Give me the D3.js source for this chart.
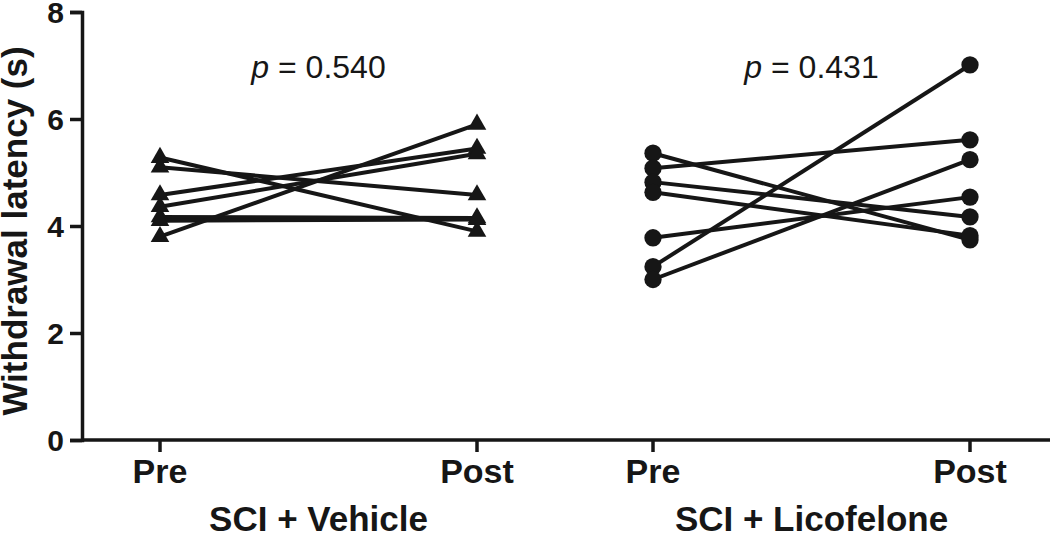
<!DOCTYPE html>
<html>
<head>
<meta charset="utf-8">
<script src="https://cdn.jsdelivr.net/npm/d3@7"></script>
<style>
  body { margin: 0; background: #fff; }
  svg { display: block; }
  .bold { font-family: "Liberation Sans", Arial, sans-serif; font-weight: bold; }
</style>
</head>
<body>
<script>
var width = 1050, height = 535;

// data
var groups = ["SCI + Vehicle", "SCI + Licofelone"];
var times = ["Pre", "Post"];
var pValues = ["0.540", "0.431"];
var vehiclePre  = [5.28, 5.10, 4.58, 4.36, 4.17, 4.10, 3.80];
var vehiclePost = [3.90, 4.58, 5.45, 5.35, 4.15, 4.12, 5.90];
var licoPre  = [5.36, 5.08, 4.82, 4.63, 3.78, 3.24, 3.00];
var licoPost = [3.74, 5.61, 4.17, 3.82, 4.54, 7.01, 5.24];
var yTicks = [0, 2, 4, 6, 8];

var ink = "#161616";

var svg = d3.select("body").append("svg")
    .attr("width", width)
    .attr("height", height);

var y = d3.scaleLinear().domain([0, 8]).range([440, 12]);

var xGroup = d3.scaleBand().domain(groups).range([72, 1058]);
var xTime = d3.scalePoint().domain(times).range([0, xGroup.bandwidth()]).padding(0.2776);

function xPos(g, t) { return xGroup(g) + xTime(t); }

// y axis
var yAxis = svg.append("g")
    .attr("transform", "translate(82,0)")
    .call(d3.axisLeft(y).tickValues(yTicks).tickSize(12).tickPadding(6).tickFormat(d3.format("d")));
yAxis.select(".domain").attr("stroke", ink).attr("stroke-width", 3.5);
yAxis.selectAll(".tick line").attr("stroke", ink).attr("stroke-width", 3.5);
yAxis.selectAll(".tick text")
    .attr("class", "bold")
    .attr("font-size", 30)
    .attr("fill", ink)
    .attr("dy", "0.36em");

// x axis line + ticks
svg.append("line")
    .attr("x1", 82).attr("x2", width)
    .attr("y1", y(0)).attr("y2", y(0))
    .attr("stroke", ink).attr("stroke-width", 3.5);

var ticks = [];
groups.forEach(function (g) {
    times.forEach(function (t) { ticks.push({ g: g, t: t }); });
});

svg.selectAll(".xtick")
    .data(ticks)
    .enter().append("line")
    .attr("class", "xtick")
    .attr("x1", function (d) { return xPos(d.g, d.t); })
    .attr("x2", function (d) { return xPos(d.g, d.t); })
    .attr("y1", y(0)).attr("y2", y(0) + 12)
    .attr("stroke", ink).attr("stroke-width", 3.5);

svg.selectAll(".xlabel")
    .data(ticks)
    .enter().append("text")
    .attr("class", "bold")
    .attr("x", function (d) { return xPos(d.g, d.t); })
    .attr("y", 483)
    .attr("text-anchor", "middle")
    .attr("font-size", 34)
    .attr("fill", ink)
    .text(function (d) { return d.t; });

svg.selectAll(".glabel")
    .data(groups)
    .enter().append("text")
    .attr("class", "bold")
    .attr("x", function (g) { return xGroup(g) + xGroup.bandwidth() / 2; })
    .attr("y", 531)
    .attr("text-anchor", "middle")
    .attr("font-size", 35)
    .attr("fill", ink)
    .text(function (g) { return g; });

// y title
svg.append("text")
    .attr("class", "bold")
    .attr("transform", "translate(27,231) rotate(-90)")
    .attr("text-anchor", "middle")
    .attr("font-size", 35)
    .attr("fill", ink)
    .text("Withdrawal latency (s)");

// p values
var pText = svg.selectAll(".ptext")
    .data(groups)
    .enter().append("text")
    .attr("x", function (g) { return xGroup(g) + xGroup.bandwidth() / 2; })
    .attr("y", 78)
    .attr("text-anchor", "middle")
    .attr("font-family", "'Liberation Sans', Arial, sans-serif")
    .attr("font-size", 32)
    .attr("fill", ink);
pText.append("tspan").attr("font-style", "italic").text("p");
pText.append("tspan").text(function (g, i) { return " = " + pValues[i]; });

// paired lines
var series = [
    { g: groups[0], pre: vehiclePre, post: vehiclePost, shape: d3.symbolTriangle, size: 150 },
    { g: groups[1], pre: licoPre, post: licoPost, shape: d3.symbolCircle, size: 235 }
];

series.forEach(function (s) {
    var pairs = s.pre.map(function (v, i) { return [v, s.post[i]]; });
    var layer = svg.append("g");

    layer.selectAll("line")
        .data(pairs)
        .enter().append("line")
        .attr("x1", xPos(s.g, "Pre"))
        .attr("x2", xPos(s.g, "Post"))
        .attr("y1", function (d) { return y(d[0]); })
        .attr("y2", function (d) { return y(d[1]); })
        .attr("stroke", ink)
        .attr("stroke-width", 4);

    var pts = [];
    pairs.forEach(function (d) {
        pts.push({ t: "Pre", v: d[0] });
        pts.push({ t: "Post", v: d[1] });
    });

    layer.selectAll("path")
        .data(pts)
        .enter().append("path")
        .attr("d", d3.symbol().type(s.shape).size(s.size))
        .attr("transform", function (d) {
            return "translate(" + xPos(s.g, d.t) + "," + y(d.v) + ")";
        })
        .attr("fill", ink);
});
</script>
</body>
</html>
